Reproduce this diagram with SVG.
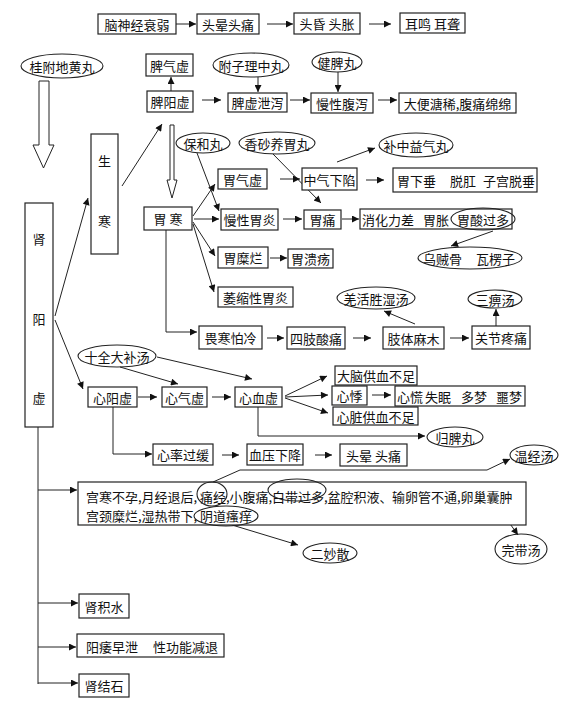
<svg xmlns="http://www.w3.org/2000/svg" width="581" height="716" viewBox="0 0 581 716">
<style>
.b{fill:#fff;stroke:#222;stroke-width:1.2}
.e{fill:none;stroke:#222;stroke-width:1.1}
.c{fill:none;stroke:#222;stroke-width:1}
.h{fill:#fff;stroke:#222;stroke-width:1}
text{font-family:"Noto Sans CJK SC","Noto Sans",sans-serif;font-size:13px;fill:#111;dominant-baseline:central}
.m{text-anchor:middle}
</style>
<defs>
<marker id="a" viewBox="0 0 10 10" refX="10" refY="5" markerWidth="9" markerHeight="7" orient="auto" markerUnits="userSpaceOnUse"><path d="M0,0 L10,5 L0,10 z" fill="#111"/></marker>
</defs>
<rect width="581" height="716" fill="#fff"/>
<g id="connectors" class="c" marker-end="url(#a)">
<line x1="176" y1="24" x2="196" y2="24"/>
<line x1="267" y1="24" x2="293" y2="24"/>
<line x1="369" y1="24" x2="391" y2="24"/>
<line x1="171" y1="91" x2="171" y2="77"/>
<line x1="202" y1="100" x2="221" y2="100"/>
<line x1="258" y1="77" x2="258" y2="92"/>
<line x1="290" y1="100" x2="310" y2="100"/>
<line x1="338" y1="72" x2="338" y2="92"/>
<line x1="378" y1="100" x2="397" y2="100"/>
<line x1="122" y1="186" x2="162" y2="124"/>
<line x1="55" y1="316" x2="88" y2="198"/>
<line x1="55" y1="320" x2="83" y2="389"/>
<line x1="193" y1="216" x2="215" y2="184"/>
<line x1="194" y1="219" x2="219" y2="219"/>
<line x1="193" y1="222" x2="215" y2="256"/>
<line x1="193" y1="224" x2="214" y2="292"/>
<line x1="197" y1="153" x2="219" y2="211"/>
<line x1="273" y1="154" x2="321" y2="203"/>
<line x1="280" y1="179" x2="300" y2="179"/>
<line x1="337" y1="162" x2="375" y2="148"/>
<line x1="366" y1="180" x2="384" y2="180"/>
<line x1="283" y1="219" x2="302" y2="219"/>
<line x1="342" y1="219" x2="359" y2="219"/>
<line x1="493" y1="231" x2="451" y2="246"/>
<line x1="270" y1="258" x2="287" y2="258"/>
<polyline points="166,230 166,332 197,332"/>
<line x1="267" y1="338" x2="284" y2="338"/>
<line x1="353" y1="338" x2="371" y2="338"/>
<line x1="415" y1="324" x2="384" y2="311"/>
<line x1="450" y1="338" x2="469" y2="338"/>
<line x1="496" y1="326" x2="496" y2="309"/>
<line x1="157" y1="357" x2="252" y2="379"/>
<line x1="120" y1="367" x2="178" y2="384"/>
<line x1="138" y1="397" x2="157" y2="397"/>
<line x1="212" y1="397" x2="231" y2="397"/>
<line x1="285" y1="396" x2="327" y2="376"/>
<line x1="285" y1="397" x2="328" y2="395"/>
<line x1="285" y1="398" x2="328" y2="413"/>
<line x1="372" y1="395" x2="391" y2="395"/>
<polyline points="258,407 258,436 425,436"/>
<polyline points="113,407 113,454 152,454"/>
<line x1="222" y1="455" x2="239" y2="455"/>
<line x1="315" y1="455" x2="332" y2="455"/>
<polyline points="213,482 240,470 487,470 510,459"/>
<line x1="232" y1="525" x2="298" y2="545"/>
<polyline points="324,506 498,507 518,535"/>
<line x1="38" y1="490" x2="77" y2="490"/>
<line x1="38" y1="603" x2="78" y2="603"/>
<line x1="38" y1="647" x2="76" y2="647"/>
<line x1="38" y1="683" x2="78" y2="683"/>
<line x1="38" y1="427" x2="38" y2="684" marker-end="none"/>
</g>
<g id="hollow-arrows">
<path class="h" d="M39,81 H49 V145 H54 L43.5,168 L33,145 H39 Z"/>
<path class="h" d="M170,125 H174 V180 H177 L172,198 L167,180 H170 Z"/>
</g>
<g id="n1"><rect class="b" x="98" y="14" width="78" height="20"/><text class="m" x="137" y="24">脑神经衰弱</text></g>
<g id="n2"><rect class="b" x="197" y="14" width="62" height="20"/><text class="m" x="228" y="24">头晕头痛</text></g>
<g id="n3"><rect class="b" x="294" y="13" width="66" height="21"/><text class="m" x="327" y="23.5">头昏 头胀</text></g>
<g id="n4"><rect class="b" x="400" y="13" width="65" height="20"/><text class="m" x="432.5" y="23">耳鸣 耳聋</text></g>
<g id="e1"><ellipse class="e" cx="62" cy="66" rx="41" ry="12"/><text class="m" x="62" y="66">桂附地黄丸</text></g>
<g id="n5"><rect class="b" x="146" y="54" width="47" height="22"/><text class="m" x="169.5" y="65">脾气虚</text></g>
<g id="e2"><ellipse class="e" cx="251" cy="65" rx="38" ry="12"/><text class="m" x="251" y="65">附子理中丸</text></g>
<g id="e3"><ellipse class="e" cx="337" cy="62" rx="25" ry="10"/><text class="m" x="337" y="62">健脾丸</text></g>
<g id="n6"><rect class="b" x="147" y="91" width="46" height="21"/><text class="m" x="170" y="101.5">脾阳虚</text></g>
<g id="n7"><rect class="b" x="228" y="93" width="59" height="19"/><text class="m" x="257.5" y="102.5">脾虚泄泻</text></g>
<g id="n8"><rect class="b" x="311" y="93" width="62" height="20"/><text class="m" x="342" y="103">慢性腹泻</text></g>
<g id="n9"><rect class="b" x="399" y="93" width="117" height="20"/><text class="m" x="457.5" y="103">大便溏稀,腹痛绵绵</text></g>
<g id="n10"><rect class="b" x="25" y="203" width="28" height="224"/><text class="m" x="39" y="238">肾</text><text class="m" x="39" y="318">阳</text><text class="m" x="39" y="397">虚</text></g>
<g id="n11"><rect class="b" x="91" y="134" width="27" height="120"/><text class="m" x="104.5" y="160">生</text><text class="m" x="104.5" y="220">寒</text></g>
<g id="n12"><rect class="b" x="144" y="207" width="48" height="23"/><text class="m" x="168" y="218.5">胃 寒</text></g>
<g id="e4"><ellipse class="e" cx="203" cy="143" rx="27" ry="10"/><text class="m" x="203" y="143">保和丸</text></g>
<g id="e5"><ellipse class="e" cx="277" cy="143" rx="38" ry="11"/><text class="m" x="277" y="143">香砂养胃丸</text></g>
<g id="n13"><rect class="b" x="218" y="169" width="49" height="20"/><text class="m" x="242.5" y="179">胃气虚</text></g>
<g id="n14"><rect class="b" x="221" y="209" width="57" height="21"/><text class="m" x="249.5" y="219.5">慢性胃炎</text></g>
<g id="n15"><rect class="b" x="302" y="168" width="55" height="22"/><text class="m" x="329.5" y="179">中气下陷</text></g>
<g id="e6"><ellipse class="e" cx="416" cy="145" rx="37" ry="12"/><text class="m" x="416" y="145">补中益气丸</text></g>
<g id="n16"><rect class="b" x="393" y="168" width="144" height="24"/><text x="397" y="180"><tspan x="397">胃下垂</tspan><tspan x="450">脱肛</tspan><tspan x="483">子宫脱垂</tspan></text></g>
<g id="n17"><rect class="b" x="304" y="210" width="37" height="19"/><text class="m" x="322.5" y="219.5">胃痛</text></g>
<g id="n18"><rect class="b" x="360" y="209" width="152" height="20"/><text y="219"><tspan x="362">消化力差</tspan><tspan x="423">胃胀</tspan><tspan x="457">胃酸过多</tspan></text></g>
<g id="e7"><ellipse class="e" cx="483" cy="219" rx="32" ry="11"/></g>
<g id="e8"><ellipse class="e" cx="470" cy="258" rx="52" ry="11"/><text y="258"><tspan x="423">乌贼骨</tspan><tspan x="476">瓦楞子</tspan></text></g>
<g id="n19"><rect class="b" x="218" y="247" width="50" height="21"/><text class="m" x="243" y="257.5">胃糜烂</text></g>
<g id="n20"><rect class="b" x="288" y="249" width="45" height="19"/><text class="m" x="310.5" y="258.5">胃溃疡</text></g>
<g id="n21"><rect class="b" x="218" y="287" width="75" height="20"/><text class="m" x="255.5" y="297">萎缩性胃炎</text></g>
<g id="n22"><rect class="b" x="199" y="326" width="63" height="23"/><text class="m" x="230.5" y="337.5">畏寒怕冷</text></g>
<g id="n23"><rect class="b" x="287" y="327" width="58" height="22"/><text class="m" x="316" y="338">四肢酸痛</text></g>
<g id="n24"><rect class="b" x="383" y="327" width="61" height="22"/><text class="m" x="413.5" y="338">肢体麻木</text></g>
<g id="e9"><ellipse class="e" cx="376" cy="298" rx="39" ry="11"/><text class="m" x="376" y="298">羌活胜湿汤</text></g>
<g id="n25"><rect class="b" x="472" y="326" width="58" height="23"/><text class="m" x="501" y="337.5">关节疼痛</text></g>
<g id="e10"><ellipse class="e" cx="495" cy="299" rx="27" ry="9"/><text class="m" x="495" y="299">三痹汤</text></g>
<g id="e11"><ellipse class="e" cx="117" cy="356" rx="39" ry="11"/><text class="m" x="117" y="356">十全大补汤</text></g>
<g id="n26"><rect class="b" x="88" y="387" width="49" height="20"/><text class="m" x="112.5" y="397">心阳虚</text></g>
<g id="n27"><rect class="b" x="162" y="387" width="45" height="20"/><text class="m" x="184.5" y="397">心气虚</text></g>
<g id="n28"><rect class="b" x="235" y="387" width="47" height="20"/><text class="m" x="258.5" y="397">心血虚</text></g>
<g id="n29"><rect class="b" x="335" y="366" width="82" height="19"/><text class="m" x="376" y="375.5">大脑供血不足</text></g>
<g id="n30"><rect class="b" x="332" y="386" width="35" height="19"/><text class="m" x="349.5" y="395.5">心悸</text></g>
<g id="n31"><rect class="b" x="395" y="386" width="130" height="20"/><text y="396"><tspan x="397">心慌</tspan><tspan x="425">失眠</tspan><tspan x="461">多梦</tspan><tspan x="496">噩梦</tspan></text></g>
<g id="n32"><rect class="b" x="333" y="407" width="85" height="18"/><text class="m" x="375.5" y="416">心脏供血不足</text></g>
<g id="e12"><ellipse class="e" cx="455" cy="437" rx="28" ry="10"/><text class="m" x="455" y="437">归脾丸</text></g>
<g id="n33"><rect class="b" x="153" y="444" width="60" height="21"/><text class="m" x="183" y="454.5">心率过缓</text></g>
<g id="n34"><rect class="b" x="247" y="444" width="56" height="21"/><text class="m" x="275" y="454.5">血压下降</text></g>
<g id="n35"><rect class="b" x="340" y="444" width="67" height="22"/><text class="m" x="373.5" y="455">头晕 头痛</text></g>
<g id="n36"><rect class="b" x="78" y="482" width="448" height="43"/>
<text y="496"><tspan x="86">宫寒不孕,月经退后,</tspan><tspan x="200">痛经</tspan><tspan x="226">,小腹痛,</tspan><tspan x="272">白带过多</tspan><tspan x="324">,盆腔积液、</tspan><tspan x="392">输卵管不通,卵巢囊肿</tspan></text>
<text y="515"><tspan x="86">宫颈糜烂,湿热带下,</tspan><tspan x="200">阴道瘙痒</tspan></text>
<ellipse class="e" cx="212" cy="494" rx="15" ry="12"/>
<ellipse class="e" cx="297" cy="490" rx="29" ry="11"/>
<ellipse class="e" cx="226" cy="516" rx="32" ry="10"/></g>
<g id="e13"><ellipse class="e" cx="534" cy="455" rx="24" ry="10"/><text class="m" x="534" y="455">温经汤</text></g>
<g id="e14"><ellipse class="e" cx="330" cy="553" rx="27" ry="10"/><text class="m" x="330" y="553">二妙散</text></g>
<g id="e15"><ellipse class="e" cx="521" cy="549" rx="26" ry="15"/><text class="m" x="521" y="549">完带汤</text></g>
<g id="n37"><rect class="b" x="79" y="594" width="50" height="24"/><text class="m" x="104" y="606">肾积水</text></g>
<g id="n38"><rect class="b" x="77" y="634" width="147" height="23"/><text y="645.5"><tspan x="86">阳痿早泄</tspan><tspan x="153">性功能减退</tspan></text></g>
<g id="n39"><rect class="b" x="79" y="674" width="50" height="23"/><text class="m" x="104" y="685.5">肾结石</text></g>
</svg>
